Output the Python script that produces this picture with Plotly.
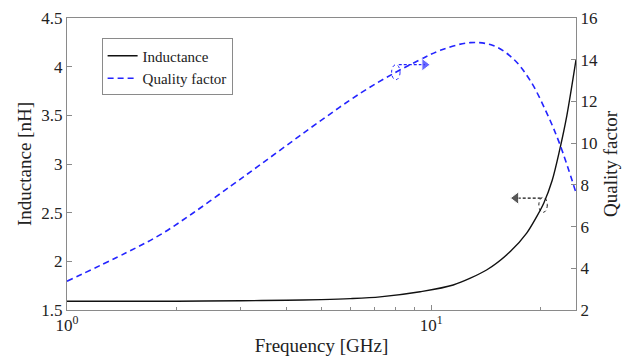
import plotly.graph_objects as go

# Data
freq_L = [1, 2, 3, 4, 5, 6, 7.24, 9.33, 11.5, 14.2, 16.5, 18.3, 19.5, 20.4, 21.5, 22.5, 23.6, 25]
inductance = [1.59, 1.59, 1.595, 1.60, 1.607, 1.617, 1.635, 1.688, 1.757, 1.911, 2.10, 2.29, 2.46,
              2.60, 2.83, 3.13, 3.50, 4.07]

freq_Q = [1, 1.46, 1.8, 2.22, 2.82, 3.33, 3.98, 4.86, 6.4, 8.0, 9.33, 10.6, 12.8, 14.8, 16.8,
          18.7, 20.8, 22.6, 25]
quality = [3.38, 4.76, 5.6, 6.65, 7.95, 8.86, 9.85, 10.95, 12.4, 13.4, 14.0, 14.45, 14.82, 14.68,
           14.05, 13.01, 11.43, 9.92, 7.62]

# annotation anchors (frequency, value) for the circled points and arrow ends
q_mark = (8.0, 13.4)
q_arrow = ([8.15, 9.6], [13.76, 13.76])
l_mark = (20.3, 2.58)
l_arrow = ([20.0, 17.1], [2.65, 2.65])

FONT = "Liberation Serif, DejaVu Serif, Times New Roman, serif"
BLUE = "#2424ff"
AX = "#8a8a8a"
TXT = "#222222"

fig = go.Figure()
fig.add_trace(go.Scatter(x=freq_L, y=inductance, mode="lines", name="Inductance",
                         line=dict(color="#111111", width=1.4, shape="spline", smoothing=0.8)))
fig.add_trace(go.Scatter(x=freq_Q, y=quality, mode="lines", name="Quality factor", yaxis="y2",
                         line=dict(color=BLUE, width=1.6, dash="6px,4px", shape="spline", smoothing=1.0)))

# arrows
fig.add_trace(go.Scatter(x=q_arrow[0], y=q_arrow[1], yaxis="y2", mode="lines+markers", showlegend=False,
                         line=dict(color=BLUE, width=1.2, dash="3px,2px"),
                         marker=dict(symbol=["circle", "triangle-right"], size=[0, 11], color=BLUE)))
fig.add_trace(go.Scatter(x=l_arrow[0], y=l_arrow[1], mode="lines+markers", showlegend=False,
                         line=dict(color="#111111", width=1.2, dash="3px,2px"),
                         marker=dict(symbol=["circle", "triangle-left"], size=[0, 11], color="#111111")))

# circled points
fig.add_shape(type="circle", xref="x", yref="y2",
              x0=q_mark[0] / 1.027, x1=q_mark[0] * 1.027, y0=q_mark[1] - 0.36, y1=q_mark[1] + 0.36,
              line=dict(color=BLUE, width=1, dash="dot"))
fig.add_shape(type="circle", xref="x", yref="y",
              x0=l_mark[0] / 1.027, x1=l_mark[0] * 1.027, y0=l_mark[1] - 0.077, y1=l_mark[1] + 0.077,
              line=dict(color="#111111", width=1, dash="dot"))

tickfont = dict(family=FONT, size=17, color=TXT)
titlefont = dict(family=FONT, size=19, color=TXT)
fig.update_layout(
    width=638, height=362,
    margin=dict(l=67, r=62, t=18, b=52),
    paper_bgcolor="white", plot_bgcolor="white",
    font=dict(family=FONT, size=17, color=TXT),
    xaxis=dict(type="log", range=[0, 1.39794], tickvals=[1, 10],
               ticktext=["10<sup>0</sup>", "10<sup>1</sup>"],
               ticks="inside", ticklen=5, tickcolor=AX,
               minor=dict(ticks="inside", ticklen=3, tickcolor=AX,
                          tickvals=[2, 3, 4, 5, 6, 7, 8, 9, 20]),
               showline=True, linecolor=AX, linewidth=1, mirror=True, showgrid=False,
               zeroline=False, tickfont=tickfont, automargin=False,
               title=dict(text="Frequency [GHz]", font=titlefont, standoff=4)),
    yaxis=dict(range=[1.5, 4.5], dtick=0.5, tickformat="~g", ticks="inside", ticklen=5, tickcolor=AX,
               showline=True, linecolor=AX, linewidth=1, showgrid=False, zeroline=False,
               tickfont=tickfont, automargin=False,
               title=dict(text="Inductance [nH]", font=titlefont, standoff=4)),
    yaxis2=dict(range=[2, 16], dtick=2, overlaying="y", side="right", ticks="inside", ticklen=5,
                tickcolor=AX, showline=True, linecolor=AX, linewidth=1, showgrid=False,
                zeroline=False, tickfont=tickfont, automargin=False,
                title=dict(text="Quality factor", font=titlefont, standoff=6)),
    legend=dict(x=0.068, y=0.93, xanchor="left", yanchor="top", bgcolor="white",
                bordercolor=AX, borderwidth=1, font=dict(family=FONT, size=15, color=TXT),
                itemwidth=30, tracegroupgap=0),
    showlegend=True,
)

fig.write_html("out.html")
